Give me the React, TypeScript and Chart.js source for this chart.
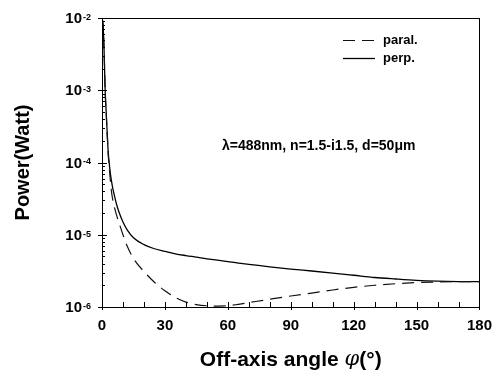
import React, { useEffect, useRef } from 'react';
import { Chart, registerables } from 'chart.js';
Chart.register(...registerables);

const angles = [0, 0.5, 1, 1.5, 2, 2.5, 3, 3.5, 4, 4.5, 5, 6, 7, 8, 10, 12, 15, 20, 25, 30, 35, 40, 45, 50, 55, 60, 65, 70, 80, 90, 100, 110, 120, 130, 140, 150, 160, 170, 180];
const perp = [1e-2, 8e-3, 3.5e-3, 1.0e-3, 5e-4, 2.5e-4, 1.35e-4, 9.5e-5, 7e-5, 5.6e-5, 4.6e-5, 3.4e-5, 2.6e-5, 2.1e-5, 1.5e-5, 1.17e-5, 9.1e-6, 7.3e-6, 6.4e-6, 5.9e-6, 5.45e-6, 5.15e-6, 4.9e-6, 4.65e-6, 4.45e-6, 4.25e-6, 4.05e-6, 3.9e-6, 3.6e-6, 3.35e-6, 3.15e-6, 2.95e-6, 2.75e-6, 2.56e-6, 2.44e-6, 2.34e-6, 2.28e-6, 2.25e-6, 2.24e-6];
const paral = [1e-2, 8e-3, 3.5e-3, 1.0e-3, 4.8e-4, 2.4e-4, 1.25e-4, 8.2e-5, 5.6e-5, 4.0e-5, 3.2e-5, 2.35e-5, 1.85e-5, 1.5e-5, 1.0e-5, 7.0e-6, 4.7e-6, 3.1e-6, 2.2e-6, 1.68e-6, 1.35e-6, 1.17e-6, 1.08e-6, 1.04e-6, 1.03e-6, 1.04e-6, 1.09e-6, 1.15e-6, 1.28e-6, 1.42e-6, 1.56e-6, 1.72e-6, 1.87e-6, 2.0e-6, 2.1e-6, 2.18e-6, 2.22e-6, 2.24e-6, 2.24e-6];

const xTickValues = [0, 30, 60, 90, 120, 150, 180];
const yTickExponents = [-6, -5, -4, -3, -2];
const seriesNames = ['paral.', 'perp.'];
const annotationText = 'λ=488nm, n=1.5-i1.5, d=50μm';
const xTitleParts = ['Off-axis angle ', 'φ', '(°)'];
const yTitle = 'Power(Watt)';

const FONT = '"Liberation Sans", Arial, Helvetica, sans-serif';

const decorPlugin = {
  id: 'decor',
  afterDraw(chart: any) {
    const ctx = chart.ctx as CanvasRenderingContext2D;
    const { left, right, top, bottom } = chart.chartArea;
    const xs = chart.scales.x;
    const ys = chart.scales.y;
    ctx.save();
    ctx.strokeStyle = '#000';
    ctx.fillStyle = '#000';
    ctx.lineWidth = 1;
    // box
    ctx.strokeRect(Math.round(left) + 0.5, Math.round(top) + 0.5, Math.round(right - left), Math.round(bottom - top));
    // y ticks
    ctx.beginPath();
    for (const e of yTickExponents) {
      const p = Math.round(ys.getPixelForValue(Math.pow(10, e))) + 0.5;
      ctx.moveTo(left - 4, p);
      ctx.lineTo(left + 5, p);
      if (e < -2) {
        for (let m = 2; m <= 9; m++) {
          const q = Math.round(ys.getPixelForValue(m * Math.pow(10, e))) + 0.5;
          ctx.moveTo(left, q);
          ctx.lineTo(left + 3, q);
        }
      }
    }
    // x ticks
    for (let v = 0; v <= 180; v += 10) {
      const px = Math.round(xs.getPixelForValue(v)) + 0.5;
      if (v % 30 === 0) {
        ctx.moveTo(px, bottom + 3);
        ctx.lineTo(px, bottom - 5);
      } else {
        ctx.moveTo(px, bottom);
        ctx.lineTo(px, bottom - 5);
      }
    }
    ctx.stroke();

    // y tick labels
    for (const e of yTickExponents) {
      const p = ys.getPixelForValue(Math.pow(10, e));
      ctx.font = `bold 15px ${FONT}`;
      ctx.textAlign = 'right';
      ctx.textBaseline = 'middle';
      ctx.fillText('10', 82, p + 1);
      ctx.font = `bold 9px ${FONT}`;
      ctx.textAlign = 'left';
      ctx.textBaseline = 'top';
      ctx.fillText('-' + String(-e), 83, p - 5);
    }

    // y title
    ctx.save();
    ctx.translate(23, (top + bottom) / 2);
    ctx.rotate(-Math.PI / 2);
    ctx.font = `bold 20px ${FONT}`;
    ctx.textAlign = 'center';
    ctx.textBaseline = 'middle';
    ctx.fillText(yTitle, 0, 0);
    ctx.restore();

    // x title
    const fonts = [`bold 21px ${FONT}`, `italic 21px "DejaVu Serif", serif`, `bold 21px ${FONT}`];
    let total = 0;
    const widths: number[] = [];
    xTitleParts.forEach((t, i) => {
      ctx.font = fonts[i];
      const w = ctx.measureText(t).width;
      widths.push(w);
      total += w;
    });
    let cx = (left + right) / 2 - total / 2;
    ctx.textAlign = 'left';
    ctx.textBaseline = 'middle';
    xTitleParts.forEach((t, i) => {
      ctx.font = fonts[i];
      ctx.fillText(t, cx, 360);
      cx += widths[i];
    });

    // annotation
    ctx.font = `bold 14px ${FONT}`;
    ctx.textAlign = 'left';
    ctx.textBaseline = 'middle';
    ctx.fillText(annotationText, 222, 146);

    // legend
    chart.data.datasets.forEach((ds: any, i: number) => {
      const ly = 40 + i * 18;
      ctx.save();
      ctx.strokeStyle = ds.borderColor;
      ctx.lineWidth = ds.borderWidth;
      ctx.setLineDash(ds.borderDash || []);
      ctx.beginPath();
      ctx.moveTo(343, ly + 0.5);
      ctx.lineTo(375, ly + 0.5);
      ctx.stroke();
      ctx.restore();
      ctx.font = `bold 13px ${FONT}`;
      ctx.textAlign = 'left';
      ctx.textBaseline = 'middle';
      ctx.fillText(ds.label, 383, ly);
    });
    ctx.restore();
  },
};

export default function App() {
  const ref = useRef<HTMLCanvasElement>(null);
  useEffect(() => {
    if (!ref.current) return;
    const chart = new Chart(ref.current, {
      type: 'line',
      data: {
        datasets: [
          {
            label: seriesNames[0],
            data: angles.map((a, i) => ({ x: a, y: paral[i] })),
            borderColor: '#111',
            borderWidth: 1.2,
            borderDash: [12, 7],
            pointRadius: 0,
            fill: false,
            cubicInterpolationMode: 'monotone',
          },
          {
            label: seriesNames[1],
            data: angles.map((a, i) => ({ x: a, y: perp[i] })),
            borderColor: '#000',
            borderWidth: 1.3,
            pointRadius: 0,
            fill: false,
            cubicInterpolationMode: 'monotone',
          },
        ],
      },
      options: {
        responsive: false,
        animation: false,
        layout: { padding: { top: 18, right: 13, left: 0, bottom: 0 } },
        plugins: { legend: { display: false }, tooltip: { enabled: false } },
        scales: {
          x: {
            type: 'linear',
            min: 0,
            max: 180,
            afterBuildTicks: (scale: any) => {
              scale.ticks = xTickValues.map((v) => ({ value: v }));
            },
            afterFit: (scale: any) => {
              scale.height = 64;
            },
            ticks: {
              color: '#000',
              font: { family: FONT, size: 15, weight: 'bold' },
              padding: 10,
              maxRotation: 0,
              autoSkip: false,
            },
            grid: { display: false, drawTicks: false },
            border: { display: false },
          },
          y: {
            type: 'logarithmic',
            min: 1e-6,
            max: 1e-2,
            afterFit: (scale: any) => {
              scale.width = 102;
            },
            ticks: { display: false },
            grid: { display: false, drawTicks: false },
            border: { display: false },
          },
        },
      },
      plugins: [decorPlugin],
    } as any);
    return () => chart.destroy();
  }, []);
  return (
    <div style={{ position: 'fixed', left: 0, top: 0, width: 502, height: 371, background: '#fff' }}>
      <canvas ref={ref} width={502} height={371} style={{ display: 'block' }} />
    </div>
  );
}
